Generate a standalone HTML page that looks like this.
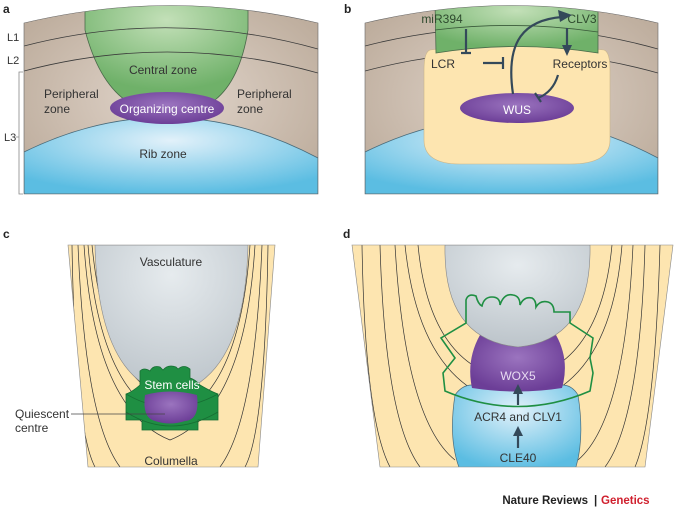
<!DOCTYPE html>
<html><head><meta charset="utf-8"><style>
html,body{margin:0;padding:0;background:#fff}
svg{display:block}
text{font-family:"Liberation Sans",sans-serif}
</style></head><body>
<svg width="685" height="509" viewBox="0 0 685 509" xmlns="http://www.w3.org/2000/svg">
<defs>
<radialGradient id="blue" cx="0.5" cy="0.3" r="0.7"><stop offset="0" stop-color="#e2f1fa"/><stop offset="1" stop-color="#5bbde2"/></radialGradient>
<radialGradient id="green" cx="0.5" cy="0.2" r="0.7"><stop offset="0" stop-color="#c3e0b8"/><stop offset="1" stop-color="#6fb169"/></radialGradient>
<radialGradient id="purp" cx="0.5" cy="0.4" r="0.6"><stop offset="0" stop-color="#9b74bf"/><stop offset="1" stop-color="#6c3e97"/></radialGradient>
<radialGradient id="grey" cx="0.5" cy="0.2" r="0.8"><stop offset="0" stop-color="#e6ebee"/><stop offset="1" stop-color="#bcc4ca"/></radialGradient>
<radialGradient id="tan" cx="0.5" cy="0.5" r="0.7"><stop offset="0" stop-color="#e2d6cc"/><stop offset="1" stop-color="#b8a796"/></radialGradient>
<clipPath id="ca"><path d="M24,23 Q171,-12 318,23 L318,194 L24,194 Z"/></clipPath>
<clipPath id="cb"><path d="M365,23 Q512,-12 658,23 L658,194 L365,194 Z"/></clipPath>
<clipPath id="cc"><path d="M68,245 L275,245 L258,467 L88,467 Z"/></clipPath>
<clipPath id="cd"><path d="M352,245 L673,245 L645,467 L380,467 Z"/></clipPath>
</defs>

<!-- Panel a -->
<text x="3" y="13" font-size="12" font-weight="bold" fill="#222">a</text>
<g clip-path="url(#ca)">
<rect x="24" y="0" width="294" height="194" fill="url(#tan)"/>
<path d="M85,0 L248,0 L248,30 Q240,80 215,100 L125,100 Q98,80 85,30 Z" fill="url(#green)" stroke="#4a6b4a" stroke-width="0.8"/>
<path d="M24,152 Q171,80 318,158 L318,194 L24,194 Z" fill="url(#blue)" stroke="#4a6b7a" stroke-width="0.8"/>
<path d="M24,46 Q171,8 318,49" fill="none" stroke="#3a3a3a" stroke-width="0.8"/>
<path d="M24,71 Q171,32 318,73" fill="none" stroke="#3a3a3a" stroke-width="0.8"/>
</g>
<path d="M24,23 Q171,-12 318,23 L318,194 L24,194 Z" fill="none" stroke="#666" stroke-width="0.6"/>
<ellipse cx="167" cy="108" rx="57" ry="16" fill="url(#purp)"/>
<text x="167" y="113" font-size="12" fill="#fff" text-anchor="middle">Organizing centre</text>
<text x="163" y="74" font-size="12" fill="#333" text-anchor="middle">Central zone</text>
<text x="44" y="98" font-size="12" fill="#333">Peripheral</text>
<text x="44" y="113" font-size="12" fill="#333">zone</text>
<text x="237" y="98" font-size="12" fill="#333">Peripheral</text>
<text x="237" y="113" font-size="12" fill="#333">zone</text>
<text x="163" y="158" font-size="12" fill="#333" text-anchor="middle">Rib zone</text>
<text x="7" y="41" font-size="11" fill="#333">L1</text>
<text x="7" y="64" font-size="11" fill="#333">L2</text>
<text x="4" y="141" font-size="11" fill="#333">L3</text>
<path d="M23,72 L19,72 L19,194 L23,194 M19,137 L16,137" fill="none" stroke="#888" stroke-width="0.8"/>

<!-- Panel b -->
<text x="344" y="13" font-size="12" font-weight="bold" fill="#222">b</text>
<g clip-path="url(#cb)">
<rect x="365" y="0" width="294" height="194" fill="url(#tan)"/>
<path d="M365,152 Q512,80 658,158 L658,194 L365,194 Z" fill="url(#blue)" stroke="#4a6b7a" stroke-width="0.8"/>
<path d="M365,46 Q512,8 658,49" fill="none" stroke="#3a3a3a" stroke-width="0.8"/>
<path d="M365,71 Q512,32 658,73" fill="none" stroke="#3a3a3a" stroke-width="0.8"/>
<path d="M430,50 Q512,40 604,50 Q610,52 610,70 L610,140 Q610,164 570,164 L460,164 Q424,164 424,140 L424,70 Q424,52 430,50 Z" fill="#fde5b0" stroke="#c9b58a" stroke-width="0.6"/>
<path d="M435,0 L598,0 L598,53 Q516,40 436,53 Z" fill="url(#green)" stroke="#4a6b4a" stroke-width="0.8"/>
<path d="M435,30 Q516,20 598,32" fill="none" stroke="#3a5a3a" stroke-width="0.8"/>
</g>
<path d="M365,23 Q512,-12 658,23 L658,194 L365,194 Z" fill="none" stroke="#666" stroke-width="0.6"/>
<ellipse cx="517" cy="108" rx="57" ry="15" fill="url(#purp)"/>
<text x="517" y="114" font-size="12" fill="#fff" text-anchor="middle">WUS</text>
<text x="442" y="23" font-size="12" fill="#2e4a2e" text-anchor="middle">miR394</text>
<text x="582" y="23" font-size="12" fill="#2e4a2e" text-anchor="middle">CLV3</text>
<text x="443" y="68" font-size="12" fill="#333" text-anchor="middle">LCR</text>
<text x="580" y="68" font-size="12" fill="#333" text-anchor="middle">Receptors</text>
<g stroke="#34495a" stroke-width="2.2" fill="none" stroke-linecap="butt">
<path d="M513,94 C505,40 525,20 562,17"/>
<path d="M466,29 L466,53 M461,53 L471,53"/>
<path d="M483,63 L503,63 M503,57 L503,69"/>
<path d="M567,28 L567,47"/>
<path d="M558,75 Q553,92 538,98 M535,93 L541,102"/>
</g>
<path d="M572,15 L558,10 L560,22 Z" fill="#34495a"/>
<path d="M567,56 L562,45 L572,45 Z" fill="#34495a"/>

<!-- Panel c -->
<text x="3" y="238" font-size="12" font-weight="bold" fill="#222">c</text>
<g clip-path="url(#cc)">
<rect x="60" y="245" width="220" height="222" fill="#fde5b0"/>
<g fill="none" stroke="#333" stroke-width="0.7">
<path d="M78,245 Q85,420 120,467"/>
<path d="M84,245 Q95,410 170,440 Q245,410 255,245"/>
<path d="M88,245 Q100,395 170,420 Q240,395 250,245"/>
<path d="M92,245 Q105,380 170,400 Q235,380 246,245"/>
<path d="M262,245 Q255,420 220,467"/>
<path d="M72,245 Q75,430 95,467"/>
<path d="M268,245 Q265,430 245,467"/>
</g>
<path d="M95,245 L248,245 Q245,380 170,395 Q98,380 95,245 Z" fill="url(#grey)" stroke="#888" stroke-width="0.6"/>
<path d="M140,378 L140,371 Q144,367 150,371 Q153,365 160,367 L163,370 Q168,364 176,367 L178,369 Q184,364 190,369 L190,378 Q196,380 200,385 Q212,392 218,394 L218,420 L198,420 L198,430 L142,430 L142,420 L126,420 L126,394 Q132,392 140,385 Z" fill="#1f8f43" stroke="#176e33" stroke-width="0.8"/>
<path d="M126,394 Q170,420 218,394 M126,412 Q170,440 218,412" fill="none" stroke="#176e33" stroke-width="0.8"/>
<path d="M145,395 Q170,388 197,395 Q200,420 185,421 Q170,426 155,421 Q142,418 145,395 Z" fill="url(#purp)"/>
</g>
<path d="M68,245 L275,245 L258,467 L88,467 Z" fill="none" stroke="#888" stroke-width="0.6"/>
<text x="171" y="266" font-size="12" fill="#333" text-anchor="middle">Vasculature</text>
<text x="172" y="389" font-size="12" fill="#fff" text-anchor="middle">Stem cells</text>
<text x="171" y="465" font-size="12" fill="#333" text-anchor="middle">Columella</text>
<text x="15" y="418" font-size="12" fill="#333">Quiescent</text>
<text x="15" y="432" font-size="12" fill="#333">centre</text>
<path d="M71,414 L165,414" stroke="#444" stroke-width="0.7"/>

<!-- Panel d -->
<text x="343" y="238" font-size="12" font-weight="bold" fill="#222">d</text>
<g clip-path="url(#cd)">
<rect x="350" y="245" width="325" height="222" fill="#fde5b0"/>
<g fill="none" stroke="#333" stroke-width="0.7">
<path d="M362,245 Q365,420 390,467"/>
<path d="M380,245 Q385,420 420,467"/>
<path d="M395,245 Q405,420 455,460"/>
<path d="M405,245 Q420,390 515,405 Q610,390 622,245"/>
<path d="M418,245 Q430,370 515,380 Q600,370 612,245"/>
<path d="M455,400 Q515,440 578,400"/>
<path d="M633,245 Q625,420 578,460"/>
<path d="M645,245 Q640,420 605,467"/>
<path d="M660,245 Q655,420 635,467"/>
</g>
<path d="M455,395 Q462,385 472,385 L562,385 Q572,385 578,395 Q585,440 575,470 L460,470 Q448,440 455,395 Z" fill="url(#blue)" stroke="#4a6b7a" stroke-width="0.7"/>
<path d="M480,335 Q518,350 556,335 Q570,360 562,388 Q518,395 472,388 Q466,360 480,335 Z" fill="url(#purp)"/>
<path d="M445,245 L590,245 Q592,340 518,347 Q443,340 445,245 Z" fill="url(#grey)" stroke="#888" stroke-width="0.6"/>
<path d="M466,313 L466,300 Q468,293 476,296 Q478,304 482,306 Q484,297 492,297 Q500,297 500,305 Q504,293 513,295 Q520,296 520,305 Q524,296 532,298 Q536,300 536,307 Q540,300 548,302 Q554,304 554,312 L570,312 L570,323 L593,338 L590,358 L593,373 L590,391 Q518,422 445,391 L443,373 L455,358 L441,338 L466,323 Z" fill="none" stroke="#1f8f43" stroke-width="1.6"/>
</g>
<path d="M352,245 L673,245 L645,467 L380,467 Z" fill="none" stroke="#888" stroke-width="0.6"/>
<text x="518" y="380" font-size="12" fill="#e8dcf2" text-anchor="middle">WOX5</text>
<text x="518" y="421" font-size="12" fill="#333" text-anchor="middle">ACR4 and CLV1</text>
<text x="518" y="462" font-size="12" fill="#333" text-anchor="middle">CLE40</text>
<g stroke="#34495a" stroke-width="2.2"><path d="M518,405 L518,390"/><path d="M518,448 L518,432"/></g>
<path d="M518,384 L513,394 L523,394 Z M518,426 L513,436 L523,436 Z" fill="#34495a"/>

<text x="588" y="504" font-size="11.5" font-weight="bold" fill="#222" text-anchor="end">Nature Reviews</text>
<text x="594" y="504" font-size="11.5" font-weight="bold" fill="#222">|</text>
<text x="601" y="504" font-size="11.5" font-weight="bold" fill="#d0202e">Genetics</text>
</svg>
</body></html>
